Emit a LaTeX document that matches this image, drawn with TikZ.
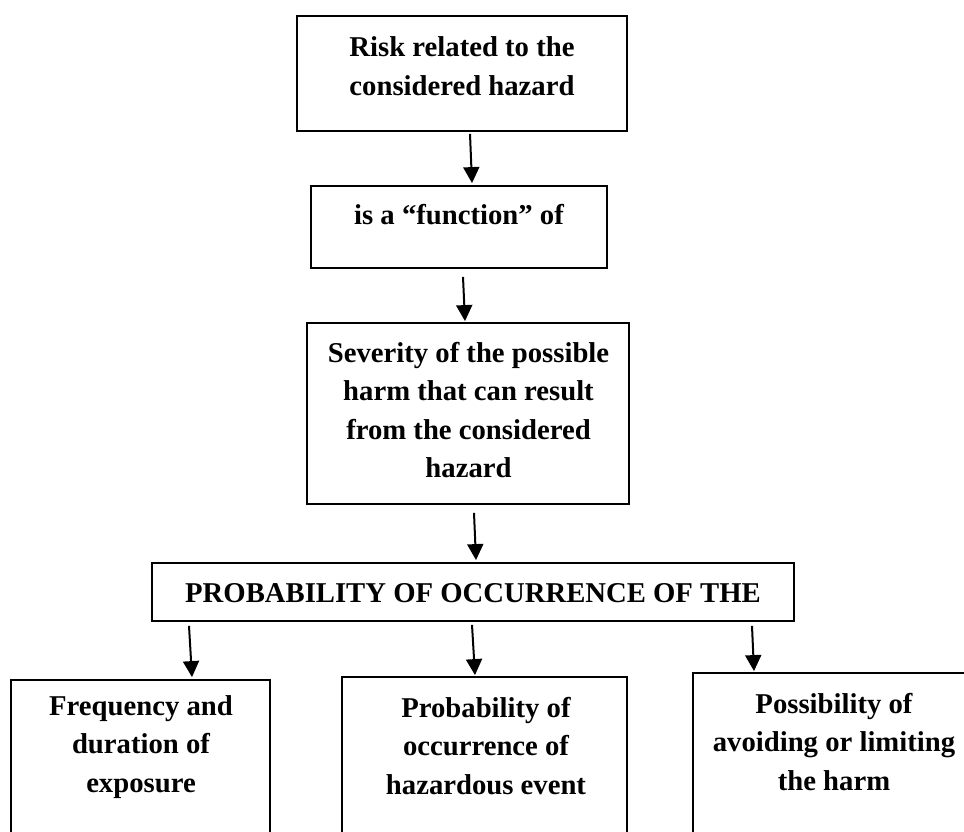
\documentclass[tikz,border=0pt]{standalone}
\usepackage{fontspec}
\setmainfont{Liberation Serif}
\usetikzlibrary{arrows.meta}
\begin{document}
\begin{tikzpicture}[x=1pt,y=-1pt,
  box/.style={draw, line width=1.8pt, inner sep=0pt},
  txt/.style={font=\bfseries\fontsize{28.7}{38.5}\selectfont, align=center, inner sep=0pt},
  arr/.style={line width=2pt, -{Triangle[length=16pt,width=16pt]}}]
\useasboundingbox (0,0) rectangle (964,832);
\clip (0,0) rectangle (964,832);
% boxes
\node[box, minimum width=330pt, minimum height=115pt] (b1) at (462,73.5) {};
\node[box, minimum width=296pt, minimum height=82pt] (b2) at (459,227) {};
\node[box, minimum width=322pt, minimum height=181pt] (b3) at (468,413.5) {};
\node[box, minimum width=642pt, minimum height=58pt] (b4) at (473,592) {};
\node[box, minimum width=259pt, minimum height=170pt] (c1) at (140.5,765) {};
\node[box, minimum width=285pt, minimum height=173pt] (c2) at (484.5,763.5) {};
\node[box, minimum width=277pt, minimum height=177pt] (c3) at (831.5,761.5) {};
% texts
\node[txt] (t1) at (462,66) {Risk related to the\\considered hazard};
\node[txt] (t2) at (459,215) {is a “function” of};
\node[txt] (t3) at (468.5,410) {Severity of the possible\\harm that can result\\from the considered\\hazard};
\node[txt] (t4) at (473,593) {PROBABILITY OF OCCURRENCE OF THE};
\node[txt] (u1) at (141,747) {Frequency and\\duration of\\exposure};
\node[txt] (u2) at (486,746) {Probability of\\occurrence of\\hazardous event};
\node[txt] (u3) at (834,742) {Possibility of\\avoiding or limiting\\the harm};
% arrows
\draw[arr] ([xshift=8pt,yshift=-2pt]b1.south) -- ([xshift=13pt,yshift=2pt]b2.north);
\draw[arr] ([xshift=4pt,yshift=-8pt]b2.south) -- ([xshift=-3pt,yshift=1pt]b3.north);
\draw[arr] ([xshift=6pt,yshift=-8pt]b3.south) -- ([xshift=3pt,yshift=2pt]b4.north);
\draw[arr] ([xshift=-284pt,yshift=-4pt]b4.south) -- ([xshift=51.5pt,yshift=2pt]c1.north);
\draw[arr] ([xshift=-1pt,yshift=-3pt]b4.south) -- ([xshift=-9.5pt,yshift=1pt]c2.north);
\draw[arr] ([xshift=279pt,yshift=-4pt]b4.south) -- ([xshift=-77.5pt,yshift=1pt]c3.north);
\end{tikzpicture}
\end{document}
